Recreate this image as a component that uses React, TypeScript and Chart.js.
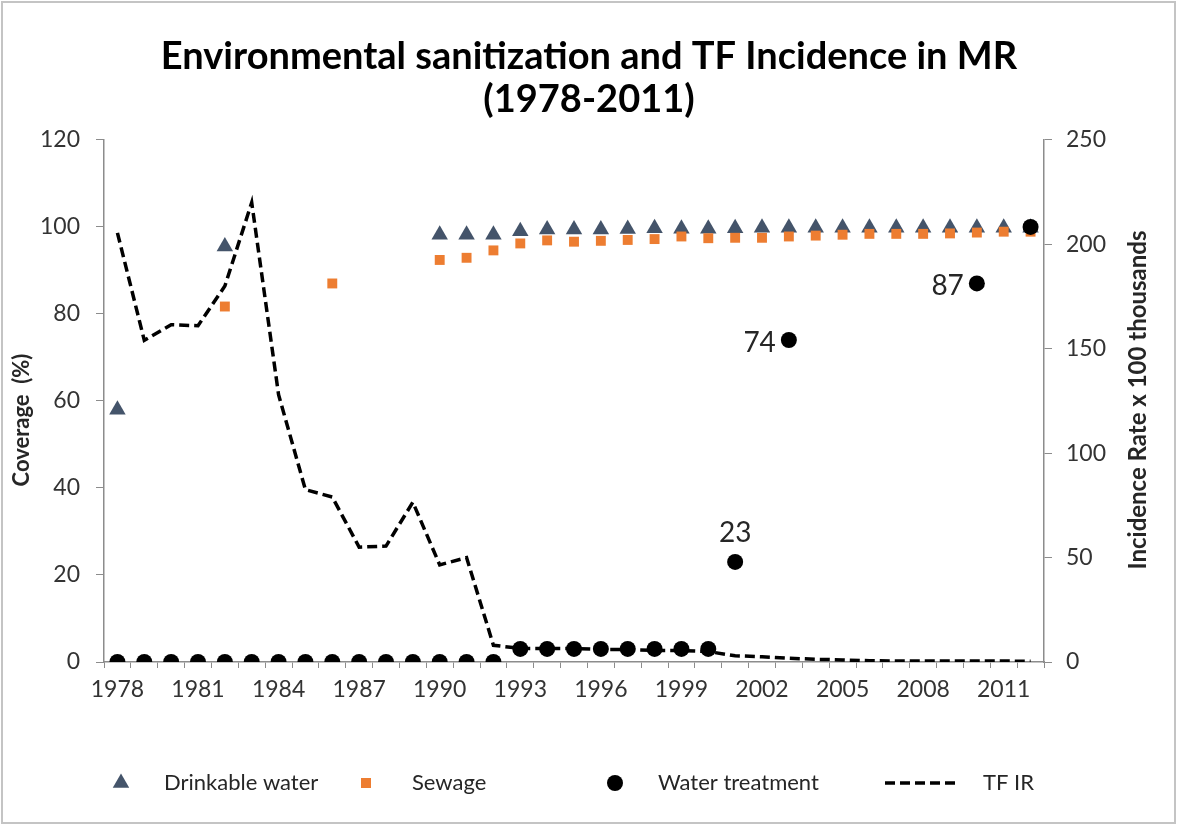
import React, { useEffect, useRef } from 'react';
import { Chart, registerables } from 'chart.js';

Chart.register(...registerables);

const years = [
  '1978', '1979', '1980', '1981', '1982', '1983', '1984', '1985', '1986', '1987',
  '1988', '1989', '1990', '1991', '1992', '1993', '1994', '1995', '1996', '1997',
  '1998', '1999', '2000', '2001', '2002', '2003', '2004', '2005', '2006', '2007',
  '2008', '2009', '2010', '2011', '2012',
];

const drinkableWater = [
  58, null, null, null, 95.5, null, null, null, null, null,
  null, null, 98.2, 98.2, 98.2, 99.0, 99.4, 99.4, 99.4, 99.5,
  99.7, 99.6, 99.6, 99.7, 99.8, 99.8, 99.8, 99.8, 99.8, 99.8,
  99.8, 99.8, 99.8, 99.8, 99.8,
];

const sewage = [
  null, null, null, null, 81.7, null, null, null, 87, null,
  null, null, 92.4, 92.9, 94.6, 96.2, 96.9, 96.6, 96.8, 97.0,
  97.2, 97.8, 97.4, 97.5, 97.5, 97.8, 98.0, 98.2, 98.4, 98.4,
  98.4, 98.5, 98.7, 98.9, 98.9,
];

const waterTreatment = [
  0, 0, 0, 0, 0, 0, 0, 0, 0, 0,
  0, 0, 0, 0, 0, 3, 3, 3, 3, 3,
  3, 3, 3, 23, null, 74, null, null, null, null,
  null, null, 87, null, 100,
];

const tfIncidence = [
  205.5, 154, 161.5, 161, 180, 220, 128, 82.5, 79, 55,
  55.5, 76.5, 46.5, 50, 8, 6.5, 6.5, 6.5, 6, 6,
  5.5, 5.5, 5, 3, 2.5, 1.8, 1.3, 1, 0.6, 0.5,
  0.5, 0.5, 0.5, 0.5, 0.3,
];

const waterTreatmentLabels = [
  { year: '2001', place: 'above' },
  { year: '2003', place: 'left' },
  { year: '2010', place: 'left' },
];

const seriesNames = ['Drinkable water', 'Sewage', 'Water treatment', 'TF IR'];
const titleLines = ['Environmental sanitization and TF Incidence in MR', '(1978-2011)'];
const leftAxisTitle = 'Coverage  (%)';
const rightAxisTitle = 'Incidence Rate x 100 thousands';

const FONT = 'Lato, "Open Sans", sans-serif';
const BLUE = '#44546A';
const ORANGE = '#ED7D31';
const AXIS = '#8c8c8c';
const TEXT = '#262626';

const decorPlugin = {
  id: 'decor',
  beforeDraw(chart: any) {
    const ctx = chart.ctx;
    ctx.save();
    ctx.fillStyle = '#ffffff';
    ctx.fillRect(0, 0, chart.width, chart.height);
    ctx.restore();
  },
  afterDraw(chart: any) {
    const ctx = chart.ctx;
    ctx.save();
    // frame
    ctx.strokeStyle = '#c4c4c4';
    ctx.lineWidth = 2;
    ctx.strokeRect(2, 2, chart.width - 5, chart.height - 3);

    // axis titles
    ctx.fillStyle = TEXT;
    ctx.textAlign = 'center';
    ctx.textBaseline = 'middle';
    ctx.save();
    ctx.font = `bold 22px ${FONT}`;
    ctx.translate(22, 420);
    ctx.rotate(-Math.PI / 2);
    ctx.fillText(leftAxisTitle, 0, 0);
    ctx.restore();
    ctx.save();
    ctx.font = `bold 24px ${FONT}`;
    ctx.translate(1138, 400);
    ctx.rotate(-Math.PI / 2);
    ctx.fillText(rightAxisTitle, 0, 0);
    ctx.restore();

    // data labels
    const meta = chart.getDatasetMeta(2);
    ctx.font = `28px ${FONT}`;
    ctx.fillStyle = TEXT;
    waterTreatmentLabels.forEach((l) => {
      const i = years.indexOf(l.year);
      const el = meta.data[i];
      if (!el) return;
      const v = waterTreatment[i];
      if (l.place === 'above') {
        ctx.textAlign = 'center';
        ctx.textBaseline = 'middle';
        ctx.fillText(String(v), el.x, el.y - 29);
      } else {
        ctx.textAlign = 'right';
        ctx.textBaseline = 'middle';
        ctx.fillText(String(v), el.x - 13, el.y + 3);
      }
    });

    // legend
    const ly = 783;
    ctx.font = `22px ${FONT}`;
    ctx.textAlign = 'left';
    ctx.textBaseline = 'middle';
    const r = 9.5;
    ctx.fillStyle = BLUE;
    ctx.beginPath();
    ctx.moveTo(121, ly - r);
    ctx.lineTo(121 + r * Math.sin(Math.PI * 2 / 3), ly - r * Math.cos(Math.PI * 2 / 3));
    ctx.lineTo(121 - r * Math.sin(Math.PI * 2 / 3), ly - r * Math.cos(Math.PI * 2 / 3));
    ctx.closePath();
    ctx.fill();
    ctx.fillStyle = TEXT;
    ctx.fillText(seriesNames[0], 164, ly);
    ctx.fillStyle = ORANGE;
    ctx.fillRect(366 - 5, ly - 5, 10, 10);
    ctx.fillStyle = TEXT;
    ctx.fillText(seriesNames[1], 412, ly);
    ctx.fillStyle = '#000';
    ctx.beginPath();
    ctx.arc(615, ly, 8, 0, Math.PI * 2);
    ctx.fill();
    ctx.fillStyle = TEXT;
    ctx.fillText(seriesNames[2], 658, ly);
    ctx.strokeStyle = '#000';
    ctx.lineWidth = 3.5;
    ctx.setLineDash([10, 5]);
    ctx.beginPath();
    ctx.moveTo(885, ly);
    ctx.lineTo(955, ly);
    ctx.stroke();
    ctx.setLineDash([]);
    ctx.fillStyle = TEXT;
    ctx.fillText(seriesNames[3], 983, ly);
    ctx.restore();
  },
};

export default function App() {
  const ref = useRef<HTMLCanvasElement | null>(null);

  useEffect(() => {
    if (!ref.current) return;
    const chart = new Chart(ref.current, {
      type: 'line',
      data: {
        labels: years,
        datasets: [
          {
            label: seriesNames[0],
            data: drinkableWater,
            yAxisID: 'y',
            showLine: false,
            pointStyle: 'triangle',
            pointRadius: 9.5,
            pointBackgroundColor: BLUE,
            pointBorderColor: BLUE,
            pointBorderWidth: 0,
            backgroundColor: BLUE,
            borderColor: BLUE,
            order: 3,
          },
          {
            label: seriesNames[1],
            data: sewage,
            yAxisID: 'y',
            showLine: false,
            pointStyle: 'rect',
            pointRadius: 7,
            pointBackgroundColor: ORANGE,
            pointBorderColor: ORANGE,
            pointBorderWidth: 0,
            backgroundColor: ORANGE,
            borderColor: ORANGE,
            order: 2,
          },
          {
            label: seriesNames[2],
            data: waterTreatment,
            yAxisID: 'y',
            showLine: false,
            pointStyle: 'circle',
            pointRadius: 8,
            pointBackgroundColor: '#000',
            pointBorderColor: '#000',
            pointBorderWidth: 0,
            backgroundColor: '#000',
            borderColor: '#000',
            order: 1,
          },
          {
            label: seriesNames[3],
            data: tfIncidence,
            yAxisID: 'y1',
            borderColor: '#000',
            borderWidth: 3.5,
            borderDash: [10, 5],
            pointRadius: 0,
            tension: 0,
            fill: false,
            order: 4,
          },
        ],
      },
      options: {
        responsive: false,
        animation: false,
        layout: { padding: 0 },
        plugins: {
          legend: { display: false },
          tooltip: { enabled: false },
          title: {
            display: true,
            text: titleLines,
            color: '#000',
            font: { family: FONT, size: 38, weight: 'bold', lineHeight: 1.13 },
            padding: { top: 35, bottom: 19 },
          },
        },
        scales: {
          x: {
            type: 'category',
            offset: true,
            grid: {
              offset: true,
              drawOnChartArea: false,
              drawTicks: true,
              tickLength: 6,
              color: AXIS,
            },
            border: { display: true, color: AXIS, width: 1.5 },
            ticks: {
              autoSkip: false,
              maxRotation: 0,
              minRotation: 0,
              padding: 8,
              color: '#333',
              font: { family: FONT, size: 23 },
              callback: (_v: any, i: number) => (i % 3 === 0 ? years[i] : ''),
            },
            afterFit: (s: any) => { s.height = 162; },
          },
          y: {
            type: 'linear',
            position: 'left',
            min: 0,
            max: 120,
            grid: {
              drawOnChartArea: false,
              drawTicks: true,
              tickLength: 8,
              color: AXIS,
            },
            border: { display: true, color: AXIS, width: 1.5 },
            ticks: {
              stepSize: 20,
              padding: 16,
              color: '#333',
              font: { family: FONT, size: 23 },
            },
            afterFit: (s: any) => { s.width = 104; },
          },
          y1: {
            type: 'linear',
            position: 'right',
            min: 0,
            max: 250,
            grid: {
              drawOnChartArea: false,
              drawTicks: true,
              tickLength: 8,
              color: AXIS,
            },
            border: { display: true, color: AXIS, width: 1.5 },
            ticks: {
              stepSize: 50,
              padding: 14,
              color: '#333',
              font: { family: FONT, size: 23 },
            },
            afterFit: (s: any) => { s.width = 134; },
          },
        },
      },
      plugins: [decorPlugin],
    });
    return () => chart.destroy();
  }, []);

  return (
    <div style={{ position: 'fixed', left: 0, top: 0, width: 1178, height: 824, background: '#fff' }}>
      <canvas ref={ref} width={1178} height={824} style={{ display: 'block', width: 1178, height: 824 }} />
    </div>
  );
}
